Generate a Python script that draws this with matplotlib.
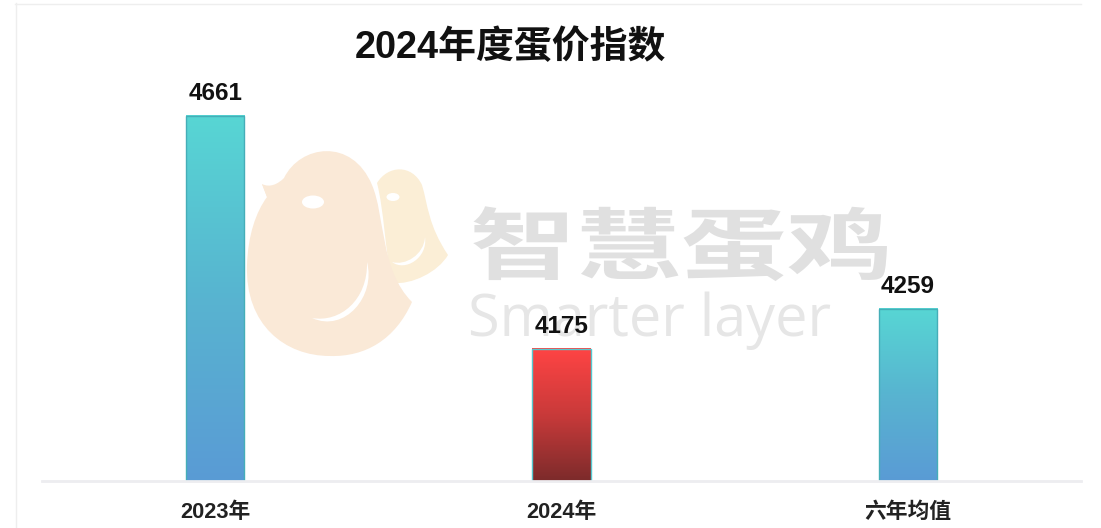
import numpy as np
import matplotlib
matplotlib.use("Agg")
import matplotlib.pyplot as plt
from matplotlib.patches import PathPatch, Ellipse
from matplotlib.path import Path
from matplotlib.colors import LinearSegmentedColormap
from matplotlib.patheffects import AbstractPathEffect
from matplotlib.transforms import Affine2D

plt.rcParams['font.family'] = ['Liberation Sans', 'Noto Sans CJK SC', 'DejaVu Sans']

categories = ['2023年', '2024年', '六年均值']
values = [4661, 4175, 4259]
title = '2024年度蛋价指数'
wm_cn = '智慧蛋鸡'
wm_en = 'Smarter layer'

W, H = 1101, 528
fig = plt.figure(figsize=(W / 100, H / 100), dpi=100, facecolor='white')

# overlay in pixel coordinates for the watermark and frame hairlines
bg = fig.add_axes([0, 0, 1, 1], zorder=0)
bg.set_xlim(0, W); bg.set_ylim(H, 0); bg.axis('off')
bg.plot([15, 1081], [3.5, 3.5], color='#eeeeee', lw=1)
bg.plot([15.5, 15.5], [3, H], color='#eeeeee', lw=1)

def blob(pts, color):
    verts = [pts[0]]; codes = [Path.MOVETO]
    for i in range(1, len(pts), 3):
        verts += pts[i:i+3]; codes += [Path.CURVE4] * 3
    bg.add_patch(PathPatch(Path(verts, codes), fc=color, ec='none'))

# small chick
blob([(377,183),(388,165),(412,164),(422,185),(428,205),(428,225),(448,255),
      (438,272),(412,285),(392,283),(385,250),(384,210),(377,183)], '#fbeed6')
# big chick
blob([(262,184),(270,188),(278,184),(284,178),(300,145),(352,137),(372,185),
      (385,215),(380,270),(412,302),(395,340),(365,357),(330,356),
      (285,356),(245,325),(247,265),(248,235),(256,212),(267,197)], '#fae9d7')
bg.add_patch(PathPatch(Path([(262,184),(267,190),(267,197)],[Path.MOVETO,Path.LINETO,Path.LINETO]), fc='#fae9d7', ec='none'))
# wing highlights
blob([(367,262),(376,296),(345,333),(312,318),(340,323),(368,300),(367,262)], 'white')
blob([(425,237),(428,258),(405,272),(392,262),(405,266),(424,255),(425,237)], 'white')
bg.add_patch(Ellipse((313, 202), 22, 13, fc='white', ec='none'))
bg.add_patch(Ellipse((393, 197), 13, 8, fc='white', ec='none'))


class Squash(AbstractPathEffect):
    """Flatten text vertically about a fixed pixel row."""
    def __init__(self, sy, cy):
        super().__init__()
        self.sy, self.cy = sy, cy

    def draw_path(self, renderer, gc, tpath, affine, rgbFace=None):
        t = affine + Affine2D().translate(0, -self.cy).scale(1, self.sy).translate(0, self.cy)
        renderer.draw_path(gc, tpath, t, rgbFace)


cn = bg.text(681, 250, wm_cn, fontsize=76, color='#e0e0e0', ha='center', va='center',
             fontweight='bold', family=['Noto Sans CJK SC'])
cn.set_path_effects([Squash(0.74, H - 250)])
bg.text(650, 336, wm_en, fontsize=41.5, color='#e6e6e6', ha='center', va='baseline',
        family=['Open Sans'])

# chart
base_px, top_px, left_px, right_px = 481, 81, 42, 1081
ax = fig.add_axes([left_px / W, 1 - base_px / H, (right_px - left_px) / W, (base_px - top_px) / H], zorder=1)
ax.patch.set_alpha(0)
ymin, ymax = 3900, 4733
ax.set_xlim(-0.5, 2.5)
ax.set_ylim(ymin, ymax)

teal = LinearSegmentedColormap.from_list('teal', ['#5a9bd5', '#58b4d0', '#57d6d4'])
red = LinearSegmentedColormap.from_list('red', ['#7c2b2b', '#c93a3a', '#ff4444'])
cmaps = [teal, red, teal]
edges = ['#45aeb8', '#55c8cf', '#45aeb8']
x = np.arange(len(values))
bars = ax.bar(x, values, width=0.168, bottom=0, color='none', edgecolor=edges, linewidth=1.0, zorder=3)
grad = np.linspace(1, 0, 256).reshape(-1, 1)
for b, v, cm in zip(bars, values, cmaps):
    ax.imshow(grad, extent=[b.get_x(), b.get_x() + b.get_width(), ymin, v],
              aspect='auto', cmap=cm, vmin=0, vmax=1, zorder=2)
    ax.text(b.get_x() + b.get_width() / 2, v + 23, str(v), ha='center', va='bottom',
            fontsize=17.5, fontweight='bold', color='#111111', zorder=4)
ax.set_xlim(-0.5, 2.5)
ax.set_ylim(ymin, ymax)

for s in ['top', 'left', 'right']:
    ax.spines[s].set_visible(False)
ax.spines['bottom'].set_color('#ededf0')
ax.spines['bottom'].set_linewidth(2)
ax.spines['bottom'].set_zorder(4)
ax.set_yticks([])
ax.set_xticks(x, categories)
ax.tick_params(axis='x', length=0, pad=15, labelsize=15.7, colors='#222222')
for t in ax.get_xticklabels():
    t.set_fontweight('bold')

fig.text(510 / W, 1 - 48 / H, title, fontsize=27.3, fontweight='bold', color='#111111', ha='center', va='center')

fig.savefig('out.png', dpi=100)
